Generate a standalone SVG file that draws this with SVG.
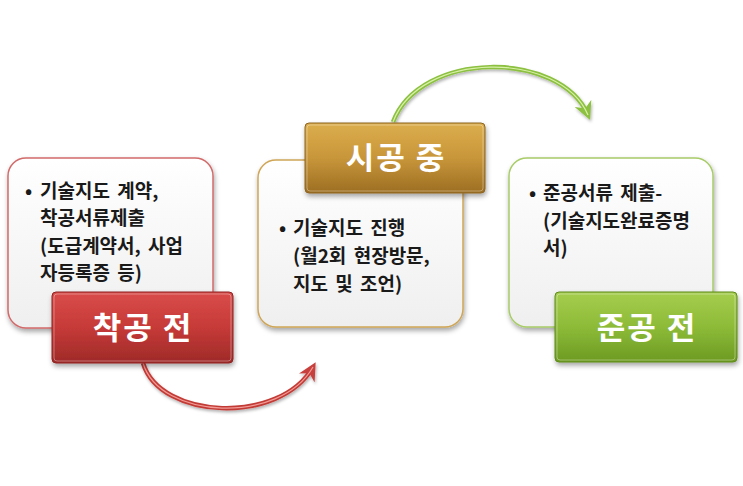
<svg xmlns="http://www.w3.org/2000/svg" width="743" height="486" viewBox="0 0 743 486">
<defs>
<filter id="sh" x="-20%" y="-20%" width="140%" height="150%">
<feDropShadow dx="1" dy="3" stdDeviation="2.5" flood-color="#000" flood-opacity="0.35"/>
</filter>
<filter id="ash" x="-20%" y="-20%" width="140%" height="150%">
<feDropShadow dx="1" dy="2" stdDeviation="1.5" flood-color="#000" flood-opacity="0.3"/>
</filter>
<linearGradient id="boxg" x1="0" y1="0" x2="0" y2="1">
<stop offset="0" stop-color="#ffffff"/>
<stop offset="1" stop-color="#efefef"/>
</linearGradient>
<linearGradient id="redg" x1="0" y1="0" x2="0" y2="1">
<stop offset="0" stop-color="#d94c4a"/>
<stop offset="0.5" stop-color="#c63a38"/>
<stop offset="1" stop-color="#9e2a28"/>
</linearGradient>
<linearGradient id="goldg" x1="0" y1="0" x2="0" y2="1">
<stop offset="0" stop-color="#dcae4c"/>
<stop offset="0.5" stop-color="#c8963a"/>
<stop offset="1" stop-color="#9c6e22"/>
</linearGradient>
<linearGradient id="greeng" x1="0" y1="0" x2="0" y2="1">
<stop offset="0" stop-color="#a6cd4e"/>
<stop offset="0.5" stop-color="#8dbb38"/>
<stop offset="1" stop-color="#6c9a22"/>
</linearGradient>
<marker id="ahr" viewBox="0 0 10 10" refX="7" refY="5" markerWidth="4" markerHeight="4" orient="auto">
<path d="M0,0 L10,5 L0,10 L3,5 Z" fill="#c8403c"/>
</marker>
<marker id="ahg" viewBox="0 0 10 10" refX="7" refY="5" markerWidth="4" markerHeight="4" orient="auto">
<path d="M0,0 L10,5 L0,10 L3,5 Z" fill="#8cc040"/>
</marker>
<style>
.box{fill:url(#boxg);stroke-width:1.5;filter:url(#sh)}
.btn{stroke-width:1;filter:url(#sh)}
.t{font-family:"Malgun Gothic","Noto Sans CJK KR",sans-serif;font-weight:bold;font-size:19px;word-spacing:3px;fill:#1a1a1a}
.b{font-family:"Malgun Gothic","Noto Sans CJK KR",sans-serif;font-weight:bold;font-size:31px;letter-spacing:2px;fill:#ffffff;text-anchor:middle}
.hl{fill:none;stroke:#ffffff;stroke-opacity:0.35;stroke-width:1}
</style>
</defs>

<g id="connectors">
<path d="M143,363 C160,420 280,425 313,367" fill="none" stroke="#c23a36" stroke-width="4.5" marker-end="url(#ahr)" filter="url(#ash)"/>
<path d="M143,363 C160,420 280,425 313,367" fill="none" stroke="#f29a96" stroke-width="1.2"/>
<path d="M393,122 C420,50 560,50 588,115" fill="none" stroke="#8cc040" stroke-width="4.5" marker-end="url(#ahg)" filter="url(#ash)"/>
<path d="M393,122 C420,50 560,50 588,115" fill="none" stroke="#d8f0a8" stroke-width="1.2"/>
</g>

<g id="box-before">
<rect class="box" x="8" y="158" width="205" height="170" rx="18" stroke="#d26a6a"/>
<text class="t" x="25" y="198">•</text>
<text class="t" x="40" y="198">기술지도 계약,</text>
<text class="t" x="40" y="225">착공서류제출</text>
<text class="t" x="40" y="253">(도급계약서, 사업</text>
<text class="t" x="40" y="280">자등록증 등)</text>
</g>

<g id="box-during">
<rect class="box" x="258" y="160" width="205" height="167" rx="18" stroke="#cfa657"/>
<text class="t" x="279" y="235">•</text>
<text class="t" x="293" y="235">기술지도 진행</text>
<text class="t" x="293" y="263">(월2회 현장방문,</text>
<text class="t" x="293" y="291">지도 및 조언)</text>
</g>

<g id="box-after">
<rect class="box" x="509" y="158" width="204" height="169" rx="18" stroke="#a8cc68"/>
<text class="t" x="529" y="200">•</text>
<text class="t" x="543" y="200">준공서류 제출-</text>
<text class="t" x="543" y="228">(기술지도완료증명</text>
<text class="t" x="543" y="255">서)</text>
</g>

<g id="btn-before">
<rect class="btn" x="52" y="292" width="181" height="71" rx="4" fill="url(#redg)" stroke="#8e2422"/>
<rect class="hl" x="54" y="294" width="177" height="67" rx="3"/>
<text class="b" x="143" y="339">착공 전</text>
</g>

<g id="btn-during">
<rect class="btn" x="305" y="123" width="180" height="70" rx="4" fill="url(#goldg)" stroke="#8c6420"/>
<rect class="hl" x="307" y="125" width="176" height="66" rx="3"/>
<text class="b" x="396" y="169">시공 중</text>
</g>

<g id="btn-after">
<rect class="btn" x="555" y="292" width="182" height="70" rx="4" fill="url(#greeng)" stroke="#5e8a1c"/>
<rect class="hl" x="557" y="294" width="178" height="66" rx="3"/>
<text class="b" x="647" y="339">준공 전</text>
</g>
</svg>
